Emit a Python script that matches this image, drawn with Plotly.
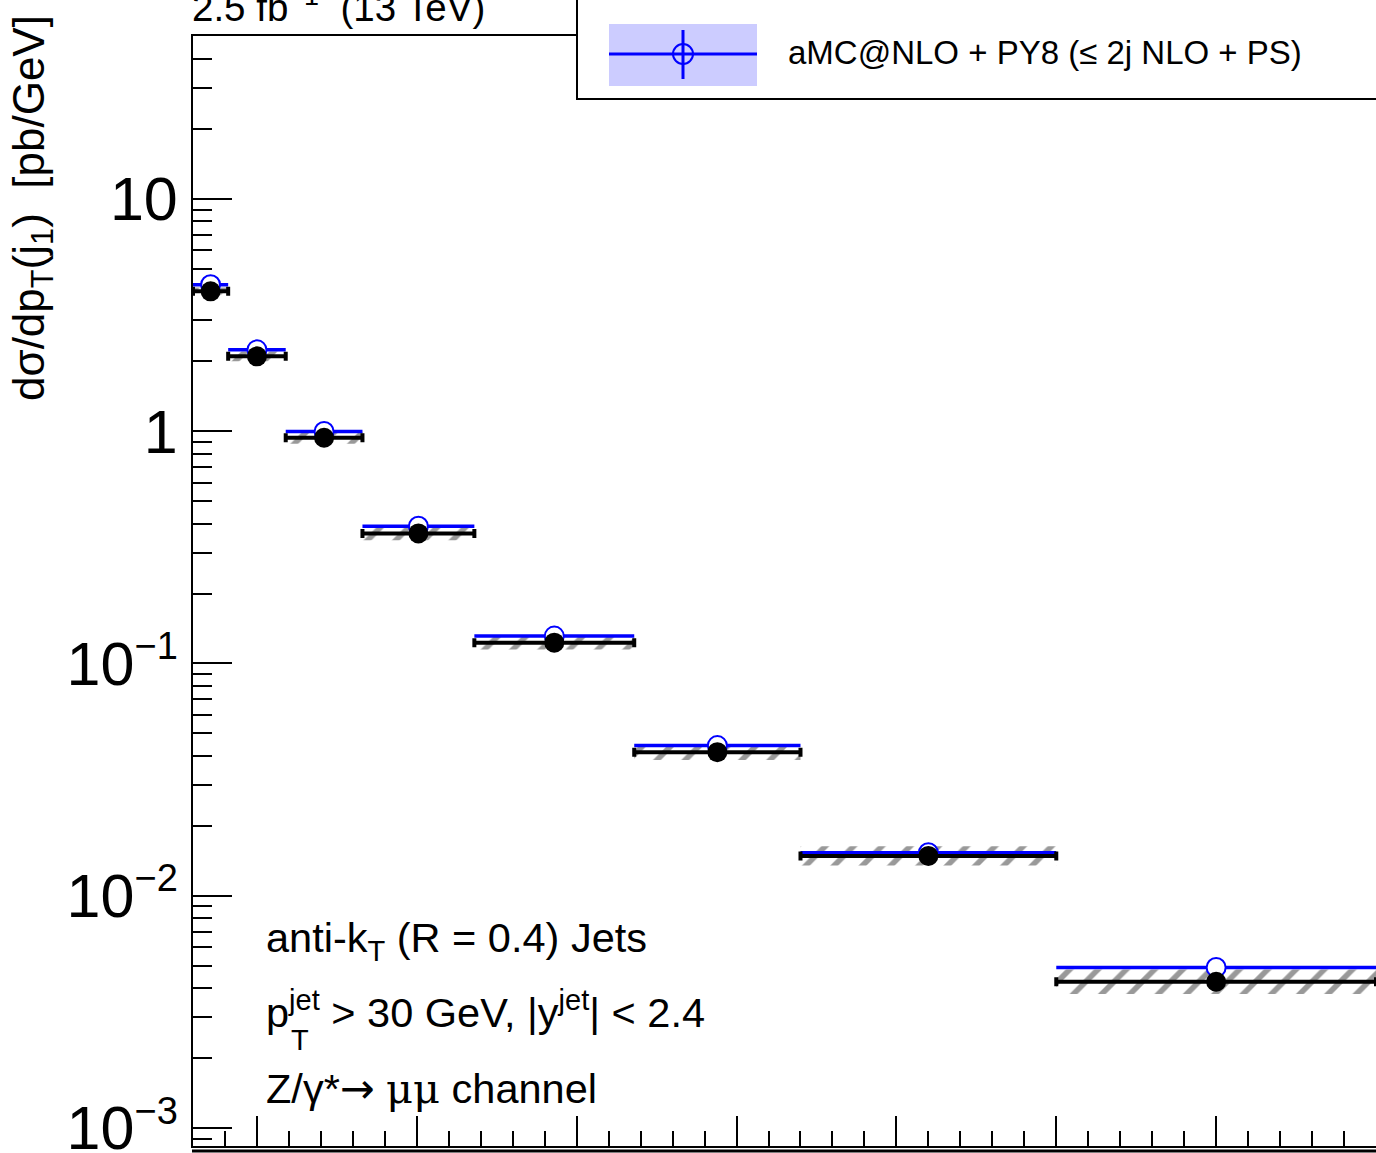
import numpy as np
import plotly.graph_objects as go

# ---------------- data ----------------
bin_edges = [30, 41, 59, 83, 118, 168, 220, 300, 400]          # leading jet pT [GeV]
data_xsec = [4.00, 2.10, 0.937, 0.363, 0.1229, 0.0415, 0.01483, 0.00426]   # pb/GeV
mc_xsec = [4.27, 2.24, 0.997, 0.390, 0.1312, 0.0443, 0.01532, 0.00491]     # aMC@NLO + PY8
data_unc_rel = [0.04, 0.05, 0.06, 0.07, 0.07, 0.08, 0.10, 0.13]           # total uncertainty (hatched)

y_tick_vals = [1e-3, 1e-2, 1e-1, 1, 10]
_sup = "<sup><span style=\"font-size:38px\">\u2212{}</span></sup>"
y_tick_text = ["10" + _sup.format(3), "10" + _sup.format(2), "10" + _sup.format(1), "1", "10"]

# ---------------- geometry helpers (layout only) ----------------
W, H = 1376, 1153
L, R, T, B = 193, 0, 36, 7
PW, PH = W - L - R, H - T - B


def px(xp):
    return (xp - L) / PW


def py(yp):
    return (H - B - yp) / PH


lo = np.array(bin_edges[:-1], dtype=float)
hi = np.array(bin_edges[1:], dtype=float)
ctr = (lo + hi) / 2
hw = (hi - lo) / 2
d = np.array(data_xsec)
u = np.array(data_unc_rel)
band_lo = d / (1 + u)
band_hi = d * (1 + u)

FONT = "Liberation Sans, Arial, Helvetica, sans-serif"

fig = go.Figure()

# hatched data uncertainty band
fig.add_trace(go.Bar(
    x=ctr, y=band_hi - band_lo, base=band_lo, width=hi - lo,
    marker=dict(color="rgba(0,0,0,0)", line=dict(width=0),
                pattern=dict(shape="/", fgcolor="#333333", bgcolor="rgba(0,0,0,0)",
                             size=20, solidity=0.28, fillmode="overlay")),
    hoverinfo="skip", showlegend=False,
))

# MC prediction
fig.add_trace(go.Scatter(
    x=ctr, y=mc_xsec, mode="markers",
    marker=dict(symbol="circle", size=19, color="white", line=dict(color="#0000ff", width=2)),
    error_x=dict(type="data", array=hw, color="#0000ff", thickness=3.5, width=0),
    showlegend=False,
))

# Data
fig.add_trace(go.Scatter(
    x=ctr, y=data_xsec, mode="markers",
    marker=dict(symbol="circle", size=20, color="black"),
    error_x=dict(type="data", array=hw, color="black", thickness=4, width=4.5),
    showlegend=False,
))

ymin, ymax = np.log10(8.36e-4), np.log10(50.3)
minor_vals = [m * 10.0 ** e for e in range(-4, 2) for m in range(2, 10)
              if 10 ** ymin <= m * 10.0 ** e <= 10 ** ymax]

fig.update_layout(
    width=W, height=H,
    margin=dict(l=L, r=R, t=T, b=B, pad=0, autoexpand=False),
    paper_bgcolor="white", plot_bgcolor="white",
    showlegend=False, barmode="overlay",
    font=dict(family=FONT, color="black"),
    xaxis=dict(
        range=[30, 400], showgrid=False, zeroline=False, automargin=False,
        showline=True, linecolor="black", linewidth=2, mirror=True,
        ticks="inside", ticklen=30, tickwidth=2, tickcolor="black",
        tick0=0, dtick=50, showticklabels=False,
        minor=dict(ticks="inside", ticklen=15, tickwidth=2, tickcolor="black",
                   tick0=0, dtick=10, showgrid=False),
    ),
    yaxis=dict(
        type="log", range=[ymin, ymax], showgrid=False, zeroline=False, automargin=False,
        showline=True, linecolor="black", linewidth=2, mirror=False,
        ticks="inside", ticklen=39, tickwidth=2, tickcolor="black",
        tickmode="array", tickvals=y_tick_vals, ticktext=y_tick_text,
        tickfont=dict(family=FONT, size=61, color="black"),
        ticklabelstandoff=1, ticklabeloverflow="allow",
        minor=dict(tickmode="array", tickvals=minor_vals, ticks="inside",
                   ticklen=19, tickwidth=2, tickcolor="black", showgrid=False),
    ),
)

shapes = []
# lower pad frame line just below
shapes.append(dict(type="line", xref="paper", yref="paper", x0=px(192), x1=px(1380),
                   y0=py(1151), y1=py(1151), line=dict(color="black", width=3), layer="above"))
# legend box
shapes.append(dict(type="rect", xref="paper", yref="paper", x0=px(577), x1=px(1390),
                   y0=py(99), y1=py(-10), line=dict(color="black", width=2),
                   fillcolor="white", layer="above"))
shapes.append(dict(type="rect", xref="paper", yref="paper", x0=px(609), x1=px(757),
                   y0=py(86), y1=py(24), line=dict(width=0),
                   fillcolor="rgb(204,204,255)", layer="above"))
shapes.append(dict(type="line", xref="paper", yref="paper", x0=px(609), x1=px(757),
                   y0=py(54), y1=py(54), line=dict(color="#0000ff", width=3), layer="above"))
shapes.append(dict(type="line", xref="paper", yref="paper", x0=px(683), x1=px(683),
                   y0=py(30), y1=py(79), line=dict(color="#0000ff", width=3), layer="above"))
shapes.append(dict(type="circle", xref="paper", yref="paper", x0=px(673), x1=px(693),
                   y0=py(64), y1=py(44), line=dict(color="#0000ff", width=2), layer="above"))
fig.update_layout(shapes=shapes)

TXT = 41.5
ann = []
ann.append(dict(xref="paper", yref="paper", x=px(786), y=py(53), xanchor="left", yanchor="middle",
                text="aMC@NLO + PY8 (\u2264 2j NLO + PS)", showarrow=False,
                font=dict(family=FONT, size=33, color="black")))
# y-axis title
ann.append(dict(xref="paper", yref="paper", x=px(32), y=py(403), xanchor="center", yanchor="bottom",
                textangle=-90, showarrow=False,
                text="d\u03c3/dp<sub>T</sub>(j<sub>1</sub>)  [pb/GeV]",
                font=dict(family=FONT, size=44, color="black")))
# luminosity
ann.append(dict(xref="paper", yref="paper", x=px(190), y=py(5), xanchor="left", yanchor="middle",
                text="2.5 fb<sup>\u22121</sup>  (13 TeV)", showarrow=False,
                font=dict(family=FONT, size=38.5, color="black")))
# in-plot labels
ann.append(dict(xref="paper", yref="paper", x=px(264), y=py(940), xanchor="left", yanchor="middle",
                text="anti-k<sub>T</sub> (R = 0.4) Jets", showarrow=False,
                font=dict(family=FONT, size=TXT, color="black")))
ann.append(dict(xref="paper", yref="paper", x=px(264), y=py(1010), xanchor="left", yanchor="middle",
                text="p<sup>jet</sup> > 30 GeV, |y<sup>jet</sup>| < 2.4", showarrow=False,
                font=dict(family=FONT, size=TXT, color="black")))
ann.append(dict(xref="paper", yref="paper", x=px(289), y=py(1040), xanchor="left", yanchor="middle",
                text="T", showarrow=False,
                font=dict(family=FONT, size=29, color="black")))
ann.append(dict(xref="paper", yref="paper", x=px(264), y=py(1088), xanchor="left", yanchor="middle",
                text="Z/\u03b3*<span style=\"font-family:DejaVu Sans\">\u2192</span> "
                     "<span style=\"font-family:DejaVu Serif\">\u03bc\u03bc</span> channel",
                showarrow=False,
                font=dict(family=FONT, size=TXT, color="black")))
fig.update_layout(annotations=ann)

fig.write_html(
    "out.html",
    config={"displayModeBar": False},
    post_script="document.body.style.margin='0';document.body.style.overflow='hidden';",
)
